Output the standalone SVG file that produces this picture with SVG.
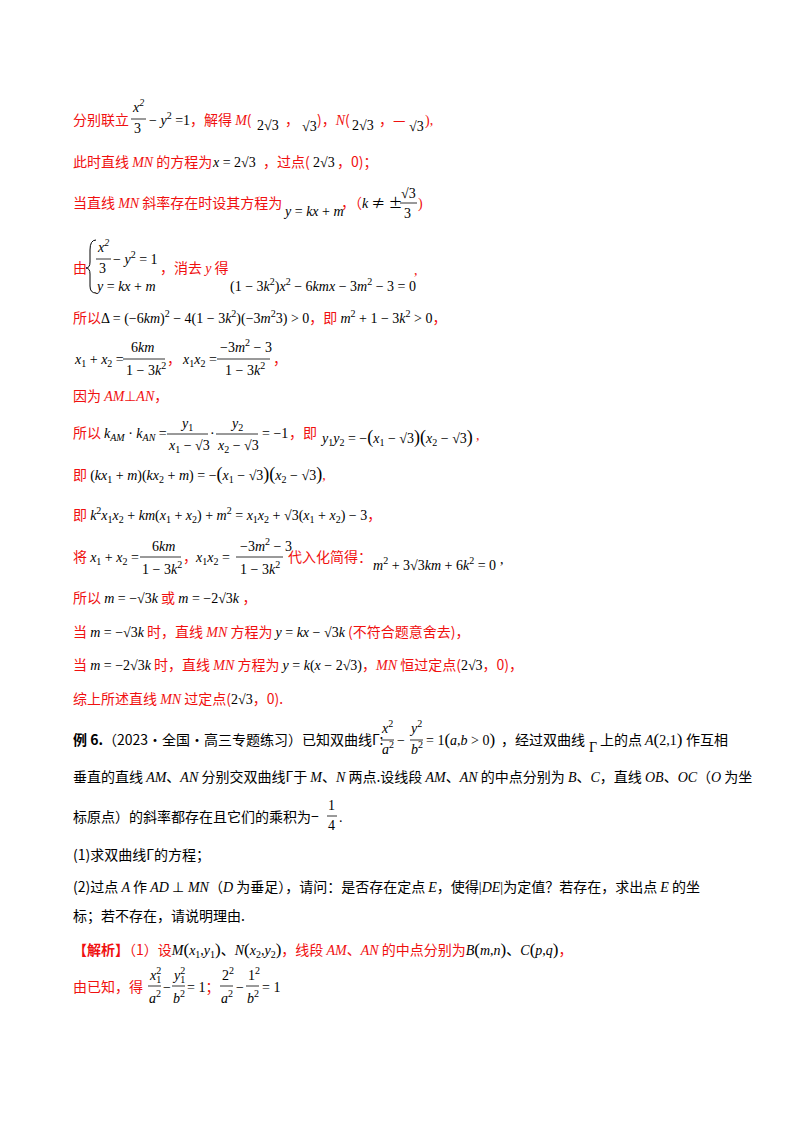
<svg xmlns="http://www.w3.org/2000/svg" width="800" height="1132" viewBox="0 0 800 1132">
<style>
text{font-family:"Liberation Serif","Noto Sans CJK SC",serif;font-size:14px;fill:#000}
.r{fill:#f01010}
.c{font-family:"Noto Sans CJK SC","Liberation Serif",sans-serif}
.i{font-style:italic}
.s{font-size:10px}
.f{stroke:#000;stroke-width:0.8}
.b{font-weight:bold}
</style>
<rect width="800" height="1132" fill="#fff"/>
<g id="text">
<!-- line 1 -->
<text x="73" y="125" class="r c">分别联立</text>
<text x="133" y="112" class="i">x<tspan class="s" dy="-6">2</tspan></text>
<line class="f" x1="131" y1="119" x2="146" y2="119"/>
<text x="134" y="133">3</text>
<text x="149" y="125">− <tspan class="i">y</tspan><tspan class="s" dy="-6">2</tspan><tspan dy="6"> =1</tspan></text>
<text x="190" y="125" class="r c">，解得 <tspan class="i" font-family="Liberation Serif">M</tspan>(</text>
<text x="257" y="130">2√3</text><text x="285" y="125" class="r">，</text><text x="302" y="131">√3</text><text x="317" y="125" class="r c">)，<tspan class="i" font-family="Liberation Serif">N</tspan>(</text>
<text x="352" y="130">2√3</text><text x="379" y="125" class="r c">，—</text><text x="409" y="131">√3</text><text x="425" y="125" class="r">),</text>
<!-- line 2 -->
<text x="73" y="167" class="r c">此时直线 <tspan class="i" font-family="Liberation Serif">MN</tspan> 的方程为</text>
<text x="213" y="167" class="i">x<tspan font-style="normal"> = 2√3</tspan></text>
<text x="263" y="167" class="r c">，过点(</text><text x="313" y="167">2√3</text><text x="337" y="167" class="r c">，0)；</text>
<!-- line 3 -->
<text x="73" y="208" class="r c">当直线 <tspan class="i" font-family="Liberation Serif">MN</tspan> 斜率存在时设其方程为</text>
<text x="285" y="216" class="i" font-size="11">y<tspan font-style="normal"> = </tspan>kx<tspan font-style="normal"> + </tspan>m</text>
<text x="341" y="208" class="r c">，（<tspan class="i" fill="#000" font-family="Liberation Serif">k</tspan><tspan fill="#000"> ≠ ±</tspan></text>
<text x="401" y="198">√3</text>
<line class="f" x1="400" y1="203" x2="417" y2="203"/>
<text x="404" y="218">3</text>
<text x="418" y="208" class="r">)</text>
<!-- line 4 -->
<text x="73" y="273" class="r c">由</text>
<path d="M96 240 Q90 240 90 250 L90 262 Q90 268 86 268 Q90 268 90 274 L90 286 Q90 293 96 293" fill="none" stroke="#000" stroke-width="1"/>
<text x="98" y="252" class="i">x<tspan class="s" dy="-6">2</tspan></text>
<line class="f" x1="96" y1="259" x2="111" y2="259"/>
<text x="99" y="273">3</text>
<text x="113" y="264">− <tspan class="i">y</tspan><tspan class="s" dy="-6">2</tspan><tspan dy="6"> = 1</tspan></text>
<text x="97" y="291" class="i">y<tspan font-style="normal"> = </tspan>kx<tspan font-style="normal"> + </tspan>m</text>
<text x="160" y="273" class="r c">，消去 <tspan class="i" font-family="Liberation Serif">y</tspan> 得</text>
<text x="230" y="291">(1 − 3<tspan class="i">k</tspan><tspan class="s" dy="-6">2</tspan><tspan dy="6">)</tspan><tspan class="i">x</tspan><tspan class="s" dy="-6">2</tspan><tspan dy="6"> − 6</tspan><tspan class="i">kmx</tspan> − 3<tspan class="i">m</tspan><tspan class="s" dy="-6">2</tspan><tspan dy="6"> − 3 = 0</tspan></text>
<text x="414" y="275" class="r">,</text>
<!-- line 5 -->
<text x="73" y="323"><tspan class="r c">所以</tspan>Δ = (−6<tspan class="i">km</tspan>)<tspan class="s" dy="-6">2</tspan><tspan dy="6"> − 4(1 − 3</tspan><tspan class="i">k</tspan><tspan class="s" dy="-6">2</tspan><tspan dy="6">)(−3</tspan><tspan class="i">m</tspan><tspan class="s" dy="-6">2</tspan><tspan dy="6">3) &gt; 0</tspan><tspan class="r c">，即 </tspan><tspan class="i">m</tspan><tspan class="s" dy="-6">2</tspan><tspan dy="6"> + 1 − 3</tspan><tspan class="i">k</tspan><tspan class="s" dy="-6">2</tspan><tspan dy="6"> &gt; 0</tspan><tspan class="r">，</tspan></text>
<!-- line 6 -->
<text x="75" y="364" class="i">x<tspan class="s" dy="3" font-style="normal">1</tspan><tspan dy="-3" font-style="normal"> + </tspan>x<tspan class="s" dy="3" font-style="normal">2</tspan><tspan dy="-3" font-style="normal"> =</tspan></text>
<text x="131" y="352">6<tspan class="i">km</tspan></text>
<line class="f" x1="123" y1="359" x2="165" y2="359"/>
<text x="126" y="375">1 − 3<tspan class="i">k</tspan><tspan class="s" dy="-6">2</tspan></text>
<text x="167" y="364" class="r">，</text>
<text x="183" y="364" class="i">x<tspan class="s" dy="3" font-style="normal">1</tspan><tspan dy="-3">x</tspan><tspan class="s" dy="3" font-style="normal">2</tspan><tspan dy="-3" font-style="normal"> =</tspan></text>
<text x="220" y="352">−3<tspan class="i">m</tspan><tspan class="s" dy="-6">2</tspan><tspan dy="6"> − 3</tspan></text>
<line class="f" x1="217" y1="359" x2="270" y2="359"/>
<text x="225" y="375">1 − 3<tspan class="i">k</tspan><tspan class="s" dy="-6">2</tspan></text>
<text x="273" y="364" class="r">，</text>
<!-- line 7 -->
<text x="73" y="401" class="r c">因为 <tspan class="i" font-family="Liberation Serif">AM</tspan><tspan font-family="Liberation Serif">⊥</tspan><tspan class="i" font-family="Liberation Serif">AN</tspan>，</text>
<!-- line 8 -->
<text x="73" y="438" class="r c">所以</text>
<text x="104" y="438" class="i">k<tspan class="s" dy="3">AM</tspan><tspan dy="-3" font-style="normal"> · </tspan>k<tspan class="s" dy="3">AN</tspan><tspan dy="-3" font-style="normal"> =</tspan></text>
<text x="182" y="428" class="i">y<tspan class="s" dy="3" font-style="normal">1</tspan></text>
<line class="f" x1="167" y1="434" x2="208" y2="434"/>
<text x="169" y="450" class="i">x<tspan class="s" dy="3" font-style="normal">1</tspan><tspan dy="-3" font-style="normal"> − √3</tspan></text>
<text x="210" y="438">·</text>
<text x="232" y="428" class="i">y<tspan class="s" dy="3" font-style="normal">2</tspan></text>
<line class="f" x1="216" y1="434" x2="258" y2="434"/>
<text x="218" y="450" class="i">x<tspan class="s" dy="3" font-style="normal">2</tspan><tspan dy="-3" font-style="normal"> − √3</tspan></text>
<text x="262" y="438">= −1</text>
<text x="289" y="438" class="r c">，即</text>
<text x="322" y="443" class="i">y<tspan class="s" dy="3" font-style="normal">1</tspan><tspan dy="-3">y</tspan><tspan class="s" dy="3" font-style="normal">2</tspan><tspan dy="-3" font-style="normal"> = −</tspan><tspan font-style="normal" font-size="18">(</tspan>x<tspan class="s" dy="3" font-style="normal">1</tspan><tspan dy="-3" font-style="normal"> − √3</tspan><tspan font-style="normal" font-size="18">)(</tspan>x<tspan class="s" dy="3" font-style="normal">2</tspan><tspan dy="-3" font-style="normal"> − √3</tspan><tspan font-style="normal" font-size="18">)</tspan></text>
<text x="476" y="440" class="r">,</text>
<!-- line 9 -->
<text x="73" y="480"><tspan class="r c">即 </tspan>(<tspan class="i">kx</tspan><tspan class="s" dy="3">1</tspan><tspan dy="-3"> + </tspan><tspan class="i">m</tspan>)(<tspan class="i">kx</tspan><tspan class="s" dy="3">2</tspan><tspan dy="-3"> + </tspan><tspan class="i">m</tspan>) = −<tspan font-size="18">(</tspan><tspan class="i">x</tspan><tspan class="s" dy="3">1</tspan><tspan dy="-3"> − √3</tspan><tspan font-size="18">)(</tspan><tspan class="i">x</tspan><tspan class="s" dy="3">2</tspan><tspan dy="-3"> − √3</tspan><tspan font-size="18">)</tspan><tspan class="r">,</tspan></text>
<!-- line 10 -->
<text x="73" y="520"><tspan class="r c">即 </tspan><tspan class="i">k</tspan><tspan class="s" dy="-6">2</tspan><tspan class="i" dy="6">x</tspan><tspan class="s" dy="3">1</tspan><tspan class="i" dy="-3">x</tspan><tspan class="s" dy="3">2</tspan><tspan dy="-3"> + </tspan><tspan class="i">km</tspan>(<tspan class="i">x</tspan><tspan class="s" dy="3">1</tspan><tspan dy="-3"> + </tspan><tspan class="i">x</tspan><tspan class="s" dy="3">2</tspan><tspan dy="-3">) + </tspan><tspan class="i">m</tspan><tspan class="s" dy="-6">2</tspan><tspan dy="6"> = </tspan><tspan class="i">x</tspan><tspan class="s" dy="3">1</tspan><tspan class="i" dy="-3">x</tspan><tspan class="s" dy="3">2</tspan><tspan dy="-3"> + √3(</tspan><tspan class="i">x</tspan><tspan class="s" dy="3">1</tspan><tspan dy="-3"> + </tspan><tspan class="i">x</tspan><tspan class="s" dy="3">2</tspan><tspan dy="-3">) − 3</tspan><tspan class="r">，</tspan></text>
<!-- line 11 -->
<text x="73" y="562"><tspan class="r c">将 </tspan><tspan class="i">x</tspan><tspan class="s" dy="3">1</tspan><tspan dy="-3"> + </tspan><tspan class="i">x</tspan><tspan class="s" dy="3">2</tspan><tspan dy="-3"> =</tspan></text>
<text x="152" y="551">6<tspan class="i">km</tspan></text>
<line class="f" x1="140" y1="557" x2="181" y2="557"/>
<text x="142" y="574">1 − 3<tspan class="i">k</tspan><tspan class="s" dy="-6">2</tspan></text>
<text x="183" y="562" class="r">，</text>
<text x="196" y="562" class="i">x<tspan class="s" dy="3" font-style="normal">1</tspan><tspan dy="-3">x</tspan><tspan class="s" dy="3" font-style="normal">2</tspan><tspan dy="-3" font-style="normal"> =</tspan></text>
<text x="240" y="551">−3<tspan class="i">m</tspan><tspan class="s" dy="-6">2</tspan><tspan dy="6"> − 3</tspan></text>
<line class="f" x1="236" y1="557" x2="283" y2="557"/>
<text x="240" y="574">1 − 3<tspan class="i">k</tspan><tspan class="s" dy="-6">2</tspan></text>
<text x="288" y="562" class="r c">代入化简得：</text>
<text x="373" y="570"><tspan class="i">m</tspan><tspan class="s" dy="-6">2</tspan><tspan dy="6"> + 3√3</tspan><tspan class="i">km</tspan> + 6<tspan class="i">k</tspan><tspan class="s" dy="-6">2</tspan><tspan dy="6"> = 0</tspan></text>
<text x="500" y="564">,</text>
<!-- line 12 -->
<text x="73" y="603"><tspan class="r c">所以 </tspan><tspan class="i">m</tspan> = −√3<tspan class="i">k</tspan><tspan class="r c"> 或 </tspan><tspan class="i">m</tspan> = −2√3<tspan class="i">k</tspan><tspan class="r"> ，</tspan></text>
<!-- line 13 -->
<text x="73" y="637"><tspan class="r c">当 </tspan><tspan class="i">m</tspan> = −√3<tspan class="i">k</tspan><tspan class="r c"> 时，直线 </tspan><tspan class="r i">MN</tspan><tspan class="r c"> 方程为 </tspan><tspan class="i">y</tspan> = <tspan class="i">kx</tspan> − √3<tspan class="i">k</tspan><tspan class="r c"> (不符合题意舍去)，</tspan></text>
<!-- line 14 -->
<text x="73" y="670"><tspan class="r c">当 </tspan><tspan class="i">m</tspan> = −2√3<tspan class="i">k</tspan><tspan class="r c"> 时，直线 </tspan><tspan class="r i">MN</tspan><tspan class="r c"> 方程为 </tspan><tspan class="i">y</tspan> = <tspan class="i">k</tspan>(<tspan class="i">x</tspan> − 2√3)<tspan class="r c">，</tspan><tspan class="r i">MN</tspan><tspan class="r c"> 恒过定点(</tspan>2√3<tspan class="r c">，0)，</tspan></text>
<!-- line 15 -->
<text x="73" y="704"><tspan class="r c">综上所述直线 </tspan><tspan class="r i">MN</tspan><tspan class="r c"> 过定点(</tspan>2√3<tspan class="r c">，0).</tspan></text>
<!-- example 6 -->
<text x="73" y="745"><tspan class="c b">例 6.</tspan><tspan class="c">（2023·全国·高三专题练习）已知双曲线Γ:</tspan></text>
<text x="382" y="733" class="i">x<tspan class="s" dy="-6" font-style="normal">2</tspan></text>
<line class="f" x1="381" y1="740" x2="394" y2="740"/>
<text x="382" y="754" class="i">a<tspan class="s" dy="-6" font-style="normal">2</tspan></text>
<text x="397" y="745">−</text>
<text x="411" y="733" class="i">y<tspan class="s" dy="-6" font-style="normal">2</tspan></text>
<line class="f" x1="410" y1="740" x2="423" y2="740"/>
<text x="411" y="754" class="i">b<tspan class="s" dy="-6" font-style="normal">2</tspan></text>
<text x="426" y="745">= 1<tspan font-size="17">(</tspan><tspan class="i">a</tspan>,<tspan class="i">b</tspan> &gt; 0<tspan font-size="17">)</tspan></text>
<text x="501" y="745" class="c">，经过双曲线</text>
<text x="589" y="752" font-size="11">Γ</text>
<text x="600" y="745" class="c">上的点</text>
<text x="645" y="745"><tspan class="i">A</tspan><tspan font-size="17">(</tspan>2,1<tspan font-size="17">)</tspan></text>
<text x="686" y="745" class="c">作互相</text>
<text x="73" y="782" class="c">垂直的直线 <tspan class="i" font-family="Liberation Serif">AM</tspan>、<tspan class="i" font-family="Liberation Serif">AN</tspan> 分别交双曲线Γ于 <tspan class="i" font-family="Liberation Serif">M</tspan>、<tspan class="i" font-family="Liberation Serif">N</tspan> 两点.设线段 <tspan class="i" font-family="Liberation Serif">AM</tspan>、<tspan class="i" font-family="Liberation Serif">AN</tspan> 的中点分别为 <tspan class="i" font-family="Liberation Serif">B</tspan>、<tspan class="i" font-family="Liberation Serif">C</tspan>，直线 <tspan class="i" font-family="Liberation Serif">OB</tspan>、<tspan class="i" font-family="Liberation Serif">OC</tspan>（<tspan class="i" font-family="Liberation Serif">O</tspan> 为坐</text>
<text x="73" y="822" class="c">标原点）的斜率都存在且它们的乘积为−</text>
<text x="328" y="810">1</text>
<line class="f" x1="327" y1="816" x2="337" y2="816"/>
<text x="328" y="830">4</text>
<text x="339" y="822">.</text>
<text x="73" y="860" class="c">(1)求双曲线Γ的方程；</text>
<text x="73" y="892" class="c">(2)过点 <tspan class="i" font-family="Liberation Serif">A</tspan> 作 <tspan class="i" font-family="Liberation Serif">AD</tspan><tspan font-family="Liberation Serif"> ⊥ </tspan><tspan class="i" font-family="Liberation Serif">MN</tspan>（<tspan class="i" font-family="Liberation Serif">D</tspan> 为垂足），请问：是否存在定点 <tspan class="i" font-family="Liberation Serif">E</tspan>，使得<tspan font-family="Liberation Serif">|</tspan><tspan class="i" font-family="Liberation Serif">DE</tspan><tspan font-family="Liberation Serif">|</tspan>为定值？若存在，求出点 <tspan class="i" font-family="Liberation Serif">E</tspan> 的坐</text>
<text x="73" y="921" class="c">标；若不存在，请说明理由.</text>
<text x="73" y="955"><tspan class="r c b">【解析】</tspan><tspan class="r c">（1）设</tspan><tspan class="i">M</tspan><tspan font-size="17">(</tspan><tspan class="i">x</tspan><tspan class="s" dy="3">1</tspan><tspan dy="-3">,</tspan><tspan class="i">y</tspan><tspan class="s" dy="3">1</tspan><tspan font-size="17" dy="-3">)</tspan><tspan class="c">、</tspan><tspan class="i">N</tspan><tspan font-size="17">(</tspan><tspan class="i">x</tspan><tspan class="s" dy="3">2</tspan><tspan dy="-3">,</tspan><tspan class="i">y</tspan><tspan class="s" dy="3">2</tspan><tspan font-size="17" dy="-3">)</tspan><tspan class="r c">，线段 </tspan><tspan class="r i">AM</tspan><tspan class="r c">、</tspan><tspan class="r i">AN</tspan><tspan class="r c"> 的中点分别为</tspan><tspan class="i">B</tspan><tspan font-size="17">(</tspan><tspan class="i">m</tspan>,<tspan class="i">n</tspan><tspan font-size="17">)</tspan><tspan class="c">、</tspan><tspan class="i">C</tspan><tspan font-size="17">(</tspan><tspan class="i">p</tspan>,<tspan class="i">q</tspan><tspan font-size="17">)</tspan><tspan class="r">，</tspan></text>
<text x="73" y="992" class="r c">由已知，得</text>
<text x="150" y="980" class="i">x<tspan class="s" dy="3" font-style="normal">1</tspan><tspan class="s" dx="-5" dy="-9" font-style="normal">2</tspan></text>
<line class="f" x1="148" y1="986" x2="161" y2="986"/>
<text x="149" y="1003" class="i">a<tspan class="s" dy="-6" font-style="normal">2</tspan></text>
<text x="163" y="992">−</text>
<text x="174" y="980" class="i">y<tspan class="s" dy="3" font-style="normal">1</tspan><tspan class="s" dx="-5" dy="-9" font-style="normal">2</tspan></text>
<line class="f" x1="172" y1="986" x2="185" y2="986"/>
<text x="173" y="1003" class="i">b<tspan class="s" dy="-6" font-style="normal">2</tspan></text>
<text x="187" y="992">= 1<tspan class="r">；</tspan></text>
<text x="222" y="980">2<tspan class="s" dy="-6">2</tspan></text>
<line class="f" x1="220" y1="986" x2="233" y2="986"/>
<text x="221" y="1003" class="i">a<tspan class="s" dy="-6" font-style="normal">2</tspan></text>
<text x="236" y="992">−</text>
<text x="248" y="980">1<tspan class="s" dy="-6">2</tspan></text>
<line class="f" x1="246" y1="986" x2="259" y2="986"/>
<text x="247" y="1003" class="i">b<tspan class="s" dy="-6" font-style="normal">2</tspan></text>
<text x="262" y="992">= 1</text>
</g>
</svg>
